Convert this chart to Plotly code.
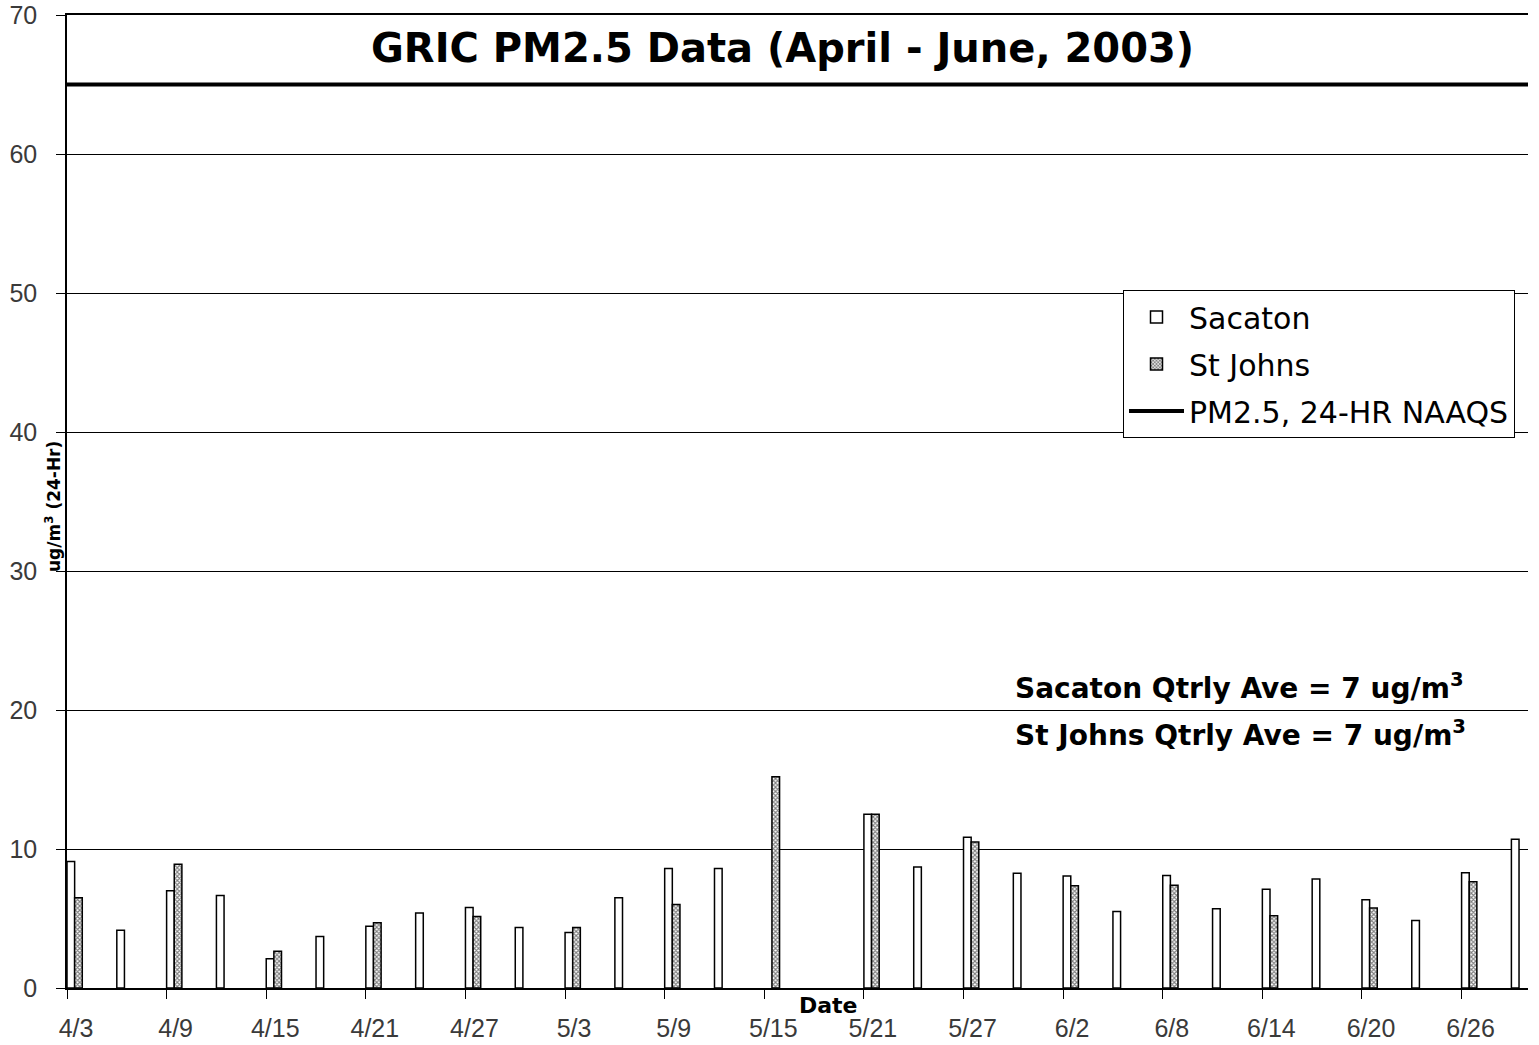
import plotly.graph_objects as go
import pandas as pd

# ---- data ----
dates = ["4/3", "4/6", "4/9", "4/12", "4/15", "4/18", "4/21", "4/24", "4/27", "4/30",
         "5/3", "5/6", "5/9", "5/12", "5/15", "5/18", "5/21", "5/24", "5/27", "5/30",
         "6/2", "6/5", "6/8", "6/11", "6/14", "6/17", "6/20", "6/23", "6/26", "6/29"]
sacaton = [9.1, 4.15, 7.0, 6.65, 2.1, 3.7, 4.45, 5.4, 5.8, 4.35,
           4.0, 6.5, 8.6, 8.6, None, None, 12.5, 8.7, 10.85, 8.25,
           8.05, 5.5, 8.1, 5.7, 7.1, 7.85, 6.35, 4.85, 8.3, 10.7]
st_johns = [6.5, None, 8.9, None, 2.65, None, 4.7, None, 5.15, None,
            4.35, None, 6.0, None, 15.2, None, 12.5, None, 10.5, None,
            7.35, None, 7.4, None, 5.2, None, 5.75, None, 7.65, None]
naaqs_level = 65
y_ticks = [0, 10, 20, 30, 40, 50, 60, 70]
title_text = "GRIC PM2.5 Data (April - June, 2003)"
sac_ave = "Sacaton Qtrly Ave = 7 ug/m<sup>3</sup>"
stj_ave = "St Johns Qtrly Ave = 7 ug/m<sup>3</sup>"

# day offsets from first sample (each day is one category slot)
d = pd.to_datetime(["2003/" + s for s in dates], format="%Y/%m/%d")
day = [int(v) for v in (d - d[0]).days]
n_days = day[-1] + 1
label_idx = list(range(0, len(dates) - 1, 2))
tick_vals = [day[i] for i in label_idx]
tick_text = [dates[i] for i in label_idx]

W, H = 1539, 1045
L, R, T, B = 67, 11, 15, 57
PW, PH = W - L - R, H - T - B


def px_x(xs):  # screen px -> paper
    return (xs - L) / PW


def px_y(ys):
    return (H - B - ys) / PH


fig = go.Figure()
fig.add_trace(go.Bar(
    x=day, y=sacaton, name="Sacaton", offset=0, width=0.46,
    marker=dict(color="white", line=dict(color="black", width=1.5)),
    legendgroup="a"))
fig.add_trace(go.Bar(
    x=day, y=st_johns, name="St Johns", offset=0.46, width=0.46,
    marker=dict(color="white", line=dict(color="black", width=1.5),
                pattern=dict(shape="x", fgcolor="black", bgcolor="white",
                             size=3, solidity=0.6)),
    legendgroup="b"))
fig.add_trace(go.Scatter(
    x=[0, n_days], y=[naaqs_level, naaqs_level], mode="lines",
    name="PM2.5, 24-HR NAAQS", line=dict(color="black", width=4),
    legendgroup="c"))

tick_font = dict(family="Liberation Sans, Arial, sans-serif", size=25, color="#3a3a3a")
bold = "DejaVu Sans, Verdana, sans-serif"

fig.update_layout(
    width=W, height=H,
    margin=dict(l=L, r=R, t=T, b=B, pad=0, autoexpand=False),
    paper_bgcolor="white", plot_bgcolor="white",
    barmode="overlay",
    showlegend=True,
    legend=dict(x=px_x(1123), y=px_y(290), xanchor="left", yanchor="top",
                bgcolor="white", bordercolor="black", borderwidth=1,
                font=dict(family="DejaVu Sans, sans-serif", size=30, color="black"),
                tracegroupgap=5, itemwidth=55, traceorder="grouped"),
    xaxis=dict(range=[0, n_days], tickmode="array", tickvals=tick_vals, ticktext=tick_text,
               ticks="outside", ticklen=9, tickwidth=1, tickcolor="black",
               ticklabelshift=9, ticklabelstandoff=8, automargin=False,
               ticklabeloverflow="allow",
               showgrid=False, showline=True, linecolor="black", linewidth=1.5,
               mirror=True, zeroline=False, tickfont=tick_font),
    yaxis=dict(range=[0, 70], tickmode="array", tickvals=y_ticks,
               ticks="outside", ticklen=9, tickwidth=1, tickcolor="black",
               ticklabelstandoff=14, automargin=False, ticklabeloverflow="allow",
               showgrid=True, gridcolor="black", gridwidth=1,
               showline=True, linecolor="black", linewidth=1.5,
               zeroline=False, tickfont=tick_font),
    annotations=[
        dict(text="<b>" + title_text + "</b>", xref="paper", yref="paper",
             x=px_x(782), y=px_y(48), xanchor="center", yanchor="middle",
             showarrow=False, font=dict(family=bold, size=40, color="black")),
        dict(text="<b>Date</b>", xref="paper", yref="paper",
             x=px_x(828), y=px_y(1005), xanchor="center", yanchor="middle",
             showarrow=False, font=dict(family=bold, size=22, color="black")),
        dict(text="<b>ug/m<sup>3</sup> (24-Hr)</b>", xref="paper", yref="paper",
             x=px_x(53), y=px_y(507), xanchor="center", yanchor="middle", textangle=-90,
             showarrow=False, font=dict(family=bold, size=17, color="black")),
        dict(text="<b>" + sac_ave + "</b>", xref="paper", yref="paper",
             x=px_x(1013), y=px_y(687), xanchor="left", yanchor="middle",
             showarrow=False, font=dict(family=bold, size=28, color="black")),
        dict(text="<b>" + stj_ave + "</b>", xref="paper", yref="paper",
             x=px_x(1013), y=px_y(733), xanchor="left", yanchor="middle",
             showarrow=False, font=dict(family=bold, size=28, color="black")),
    ],
)

fig.write_html("out.html", config={"displayModeBar": False},
               post_script="document.body.style.margin='0';")
